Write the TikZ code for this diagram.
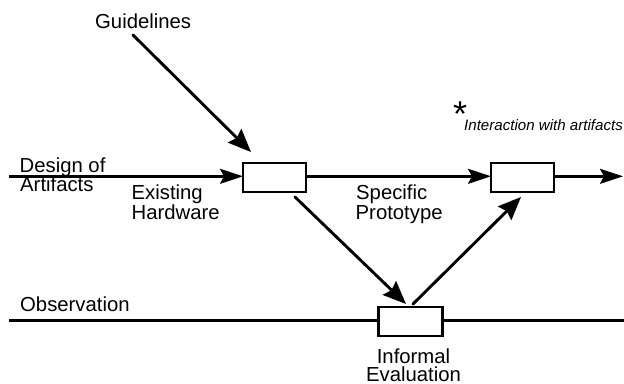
\documentclass[tikz,border=0pt]{standalone}
\usepackage{fontspec}
\setmainfont{Liberation Sans}
\usetikzlibrary{arrows.meta}
\tikzset{
  proc/.style={draw=black,line width=2.3pt,fill=white,minimum width=63pt,minimum height=28.5pt,inner sep=0pt,outer sep=0pt},
  flow/.style={line width=2.4pt,draw=black},
  hflow/.style={flow,-{Stealth[length=23pt,width=15pt,inset=4pt]}},
  dflow/.style={line width=2.9pt,draw=black,line cap=round,-{Stealth[length=23pt,width=19pt,inset=3pt]}},
  lab/.style={font=\fontsize{20.3}{20.3}\selectfont,inner sep=0pt,align=left,anchor=base west},
}
\begin{document}
\begin{tikzpicture}[x=1pt,y=-1pt]
\useasboundingbox (0,0) rectangle (624,383);
\coordinate (dstart) at (9,176.3);
\coordinate (dend) at (623,176.3);
\coordinate (ostart) at (9,320.5);
\coordinate (oend) at (624,320.5);
\coordinate (gstart) at (133,35);
\coordinate (gtip) at (251,152);
\coordinate (a1s) at (295,197);
\coordinate (a1t) at (406,304);
\coordinate (a2s) at (413,304);
\coordinate (a2t) at (521,197);
\node[proc] (b1) at (274.5,177.5) {};
\node[proc] (b2) at (522.5,177.5) {};
\node[proc,minimum width=64pt,minimum height=29pt] (b3) at (410.5,321.7) {};
\draw[hflow] (dstart) -- (b1.west |- dstart);
\draw[hflow] (b1.east |- dstart) -- (b2.west |- dstart);
\draw[hflow] (b2.east |- dstart) -- (dend);
\draw[flow] (ostart) -- (b3.west |- ostart);
\draw[flow] (b3.east |- oend) -- (oend);
\draw[dflow] (gstart) -- (gtip);
\draw[dflow] (a1s) -- (a1t);
\draw[dflow] (a2s) -- (a2t);
\node[lab] (guide) at (95,28) {Guidelines};
\node[lab] (design) at (19.5,172) {Design of};
\node[lab] (art) at (20,191) {Artifacts};
\node[lab] (ex) at (131.5,199) {Existing};
\node[lab] (hw) at (131.5,219) {Hardware};
\node[lab] (sp) at (356,199) {Specific};
\node[lab] (pr) at (355.5,219) {Prototype};
\node[lab] (obs) at (20,311.5) {Observation};
\node[lab,anchor=base] (inf) at (413.5,363.5) {Informal};
\node[lab,anchor=base] (ev) at (413.5,381.5) {Evaluation};
\node[font=\fontsize{36}{36}\selectfont,inner sep=0pt,anchor=base] (star) at (460,126) {*};
\node[font=\itshape\fontsize{15.1}{15.1}\selectfont,inner sep=0pt,anchor=base west] (note) at (464,130) {Interaction with artifacts};
\end{tikzpicture}
\end{document}
